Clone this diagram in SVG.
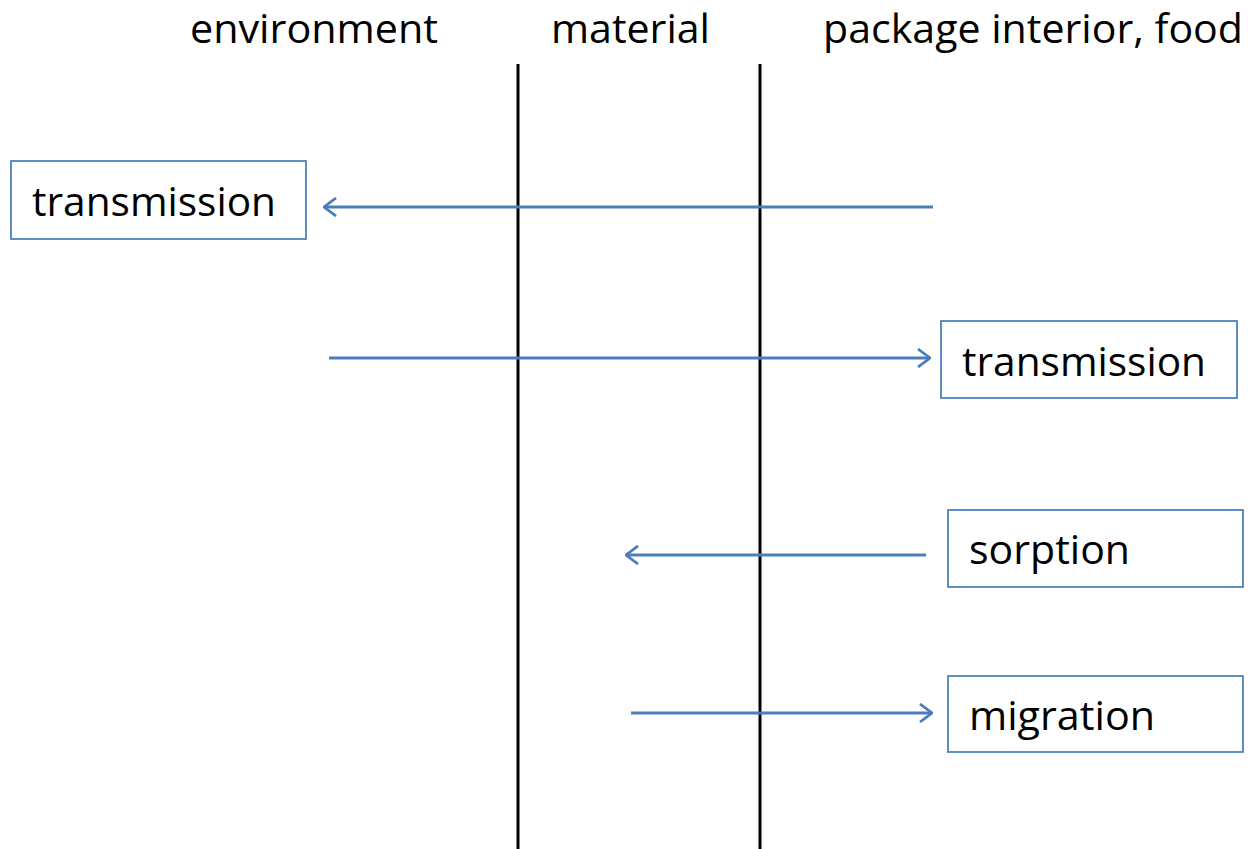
<svg xmlns="http://www.w3.org/2000/svg" width="1250" height="849" viewBox="0 0 1250 849">
  <style>
    .lbl { font-family: "Open Sans", "Noto Sans", "Liberation Sans", sans-serif; font-size: 40px; fill: #000; }
    .box { fill: #fff; stroke: #4f81bd; stroke-width: 1.8; }
    .wall { stroke: #000; stroke-width: 3; }
    .flow { stroke: #4a7ebb; stroke-width: 2.8; fill: none; }
  </style>
  <defs>
    <marker id="head" viewBox="0 0 14 20" refX="13" refY="10" markerWidth="14" markerHeight="20" markerUnits="userSpaceOnUse" orient="auto">
      <path d="M1,1 L13,10 L1,19" fill="none" stroke="#4a7ebb" stroke-width="2.8"/>
    </marker>
  </defs>

  <rect width="1250" height="849" fill="#fff"/>

  <!-- column headings -->
  <g id="headings">
    <text class="lbl" x="190" y="43" textLength="248" lengthAdjust="spacingAndGlyphs">environment</text>
    <text class="lbl" x="551" y="43" textLength="159" lengthAdjust="spacingAndGlyphs">material</text>
    <text class="lbl" x="823" y="43" textLength="420" lengthAdjust="spacingAndGlyphs">package interior, food</text>
  </g>

  <!-- material boundaries -->
  <g id="walls">
    <line class="wall" x1="518" y1="64" x2="518" y2="849"/>
    <line class="wall" x1="760" y1="64" x2="760" y2="849"/>
  </g>

  <!-- flows -->
  <g id="connectors">
    <line class="flow" x1="933" y1="207" x2="324" y2="207" marker-end="url(#head)"/>
    <line class="flow" x1="329" y1="358" x2="930" y2="358" marker-end="url(#head)"/>
    <line class="flow" x1="926" y1="555" x2="626" y2="555" marker-end="url(#head)"/>
    <line class="flow" x1="631" y1="713" x2="932" y2="713" marker-end="url(#head)"/>
  </g>

  <g id="transmission-out">
    <rect class="box" x="11" y="161" width="295" height="78"/>
    <text class="lbl" x="32" y="216" textLength="244" lengthAdjust="spacingAndGlyphs">transmission</text>
  </g>

  <g id="transmission-in">
    <rect class="box" x="941" y="321" width="296" height="77"/>
    <text class="lbl" x="962" y="376" textLength="244" lengthAdjust="spacingAndGlyphs">transmission</text>
  </g>

  <g id="sorption">
    <rect class="box" x="948" y="510" width="295" height="77"/>
    <text class="lbl" x="969" y="564" textLength="161" lengthAdjust="spacingAndGlyphs">sorption</text>
  </g>

  <g id="migration">
    <rect class="box" x="948" y="676" width="295" height="76"/>
    <text class="lbl" x="969" y="730" textLength="186" lengthAdjust="spacingAndGlyphs">migration</text>
  </g>
</svg>
